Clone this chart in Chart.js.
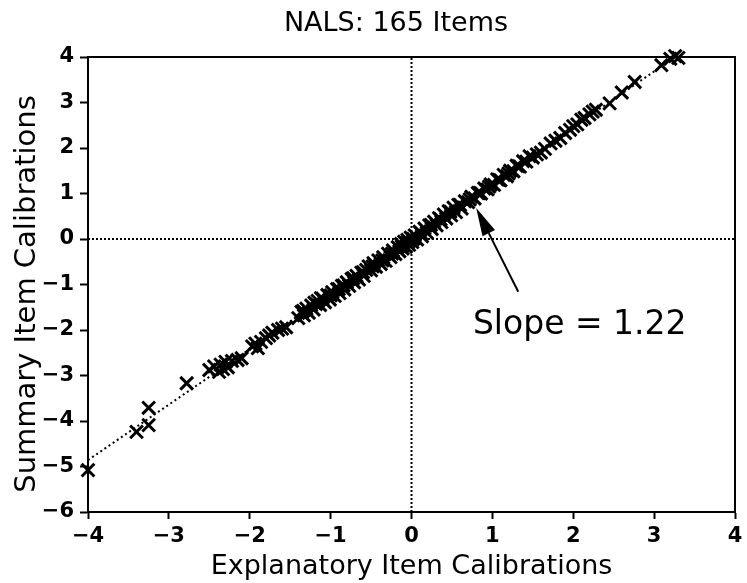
<!DOCTYPE html>
<html><head><meta charset="utf-8">
<script src="https://cdn.jsdelivr.net/npm/chart.js@4.4.1/dist/chart.umd.min.js"></script>
<style>html,body{margin:0;padding:0;background:#fff;}</style>
</head><body>
<canvas id="c" width="747" height="583"></canvas>
<script>
// ---- data ----
const titleText = 'NALS: 165 Items';
const xTitle = 'Explanatory Item Calibrations';
const yTitle = 'Summary Item Calibrations';
const xRange = [-4, 4];
const yRange = [-6, 4];
const explanatory = [
 -4.00,-3.40,-3.25,-3.25,-2.78,
 -2.50,-2.44,-2.38,-2.36,-2.33,-2.30,-2.27,-2.22,-2.15,-2.10,
 -1.97,-1.93,-1.90,-1.86,-1.80,-1.76,-1.72,-1.65,-1.60,-1.55,
 -1.40,-1.36,-1.33,-1.30,-1.27,-1.24,-1.21,-1.18,-1.16,-1.13,
 -1.10,-1.07,-1.04,-1.01,-0.98,-0.95,-0.92,-0.89,-0.86,-0.83,
 -0.80,-0.77,-0.74,-0.71,-0.68,-0.65,-0.62,-0.59,-0.56,-0.53,
 -0.50,-0.47,-0.44,-0.41,-0.38,-0.35,-0.32,-0.29,-0.26,-0.23,
 -0.20,-0.17,-0.15,-0.13,-0.11,-0.09,-0.07,-0.05,-0.03,-0.01,
 0.01,0.04,0.07,0.10,0.13,0.16,0.19,0.22,0.25,0.28,
 0.31,0.34,0.37,0.40,0.43,0.46,0.49,0.52,0.55,0.58,
 0.62,0.66,0.70,0.74,0.78,0.82,0.86,0.90,0.94,0.98,
 1.02,1.06,1.10,1.14,1.18,1.22,1.26,1.30,1.34,1.38,
 1.42,1.46,1.50,
 1.55,1.60,1.65,1.72,1.78,1.84,1.90,1.96,2.00,2.05,2.10,2.14,2.20,2.24,2.28,2.45,2.60,2.76,3.09,3.20,3.26,3.30,
 -1.34,-1.20,-1.12,-1.00,-0.90,-0.84,-0.72,-0.60,-0.48,-0.36,-0.24,-0.12,-0.04,0.02,0.12,0.24,0.36,0.48,0.60,0.72,0.84,0.96,1.08,1.20,1.32
];
const summary = [
 -5.08,-4.24,-4.09,-3.71,-3.17,
 -2.88,-2.80,-2.92,-2.76,-2.86,-2.70,-2.82,-2.68,-2.66,-2.62,
 -2.36,-2.30,-2.40,-2.26,-2.18,-2.12,-2.06,-2.00,-1.97,-1.94,
 -1.74,-1.60,-1.68,-1.53,-1.62,-1.46,-1.55,-1.43,-1.36,-1.45,
 -1.31,-1.39,-1.23,-1.33,-1.17,-1.25,-1.10,-1.19,-1.03,-1.11,
 -0.95,-1.03,-0.88,-0.95,-0.81,-0.89,-0.74,-0.81,-0.68,-0.60,
 -0.69,-0.53,-0.61,-0.47,-0.55,-0.40,-0.48,-0.32,-0.40,-0.25,
 -0.33,-0.18,-0.27,-0.11,-0.21,-0.06,-0.17,-0.02,-0.13,0.03,
 -0.07,0.08,-0.01,0.16,0.06,0.23,0.14,0.30,0.22,0.38,
 0.30,0.46,0.37,0.54,0.45,0.61,0.52,0.69,0.59,0.75,
 0.67,0.83,0.81,0.93,0.89,1.01,1.00,1.11,1.09,1.20,
 1.19,1.31,1.29,1.41,1.38,1.50,1.49,1.61,1.59,1.71,
 1.70,1.82,1.79,
 1.86,1.90,1.98,2.10,2.16,2.22,2.33,2.40,2.48,2.52,2.62,2.66,2.74,2.80,2.84,2.98,3.22,3.45,3.82,3.96,4.02,3.98,
 -1.58,-1.40,-1.30,-1.24,-1.10,-1.02,-0.86,-0.73,-0.60,-0.47,-0.32,-0.16,-0.06,0.00,0.12,0.31,0.43,0.60,0.75,0.87,1.01,1.15,1.30,1.44,1.60
];
const fitLineX = [-4.00, 3.26];
const fitLineY = [-4.86, 4.00];
const slopeLabel = 'Slope = 1.22';
const slopeLabelAt = [2.08, -1.90];
const arrowTail = [1.32, -1.16];
const arrowTip = [0.80, 0.68];

// ---- build ----
const FONT = 'DejaVu Sans';
const pts = explanatory.map((x, i) => ({x, y: summary[i]}));
const fitPts = fitLineX.map((x, i) => ({x, y: fitLineY[i]}));
const zeroV = [{x: 0, y: yRange[0]}, {x: 0, y: yRange[1]}];
const zeroH = [{x: xRange[0], y: 0}, {x: xRange[1], y: 0}];
const fmt = v => (v < 0 ? '\u2212' + Math.abs(v) : String(v));

const extras = {
  id: 'extras',
  afterDatasetsDraw(chart) {
    const {ctx, chartArea: a, scales: {x, y}} = chart;
    ctx.save();
    ctx.strokeStyle = '#000';
    ctx.fillStyle = '#000';
    ctx.lineWidth = 2;
    ctx.strokeRect(a.left, a.top, a.right - a.left, a.bottom - a.top);
    // arrow
    const tx = x.getPixelForValue(arrowTail[0]), ty = y.getPixelForValue(arrowTail[1]);
    const hx = x.getPixelForValue(arrowTip[0]), hy = y.getPixelForValue(arrowTip[1]);
    const ang = Math.atan2(hy - ty, hx - tx);
    const L = 28, W = 7;
    const bx = hx - L * Math.cos(ang), by = hy - L * Math.sin(ang);
    ctx.beginPath(); ctx.moveTo(tx, ty); ctx.lineTo(bx, by); ctx.stroke();
    ctx.beginPath();
    ctx.moveTo(hx, hy);
    ctx.lineTo(bx + W * Math.sin(ang), by - W * Math.cos(ang));
    ctx.lineTo(bx - W * Math.sin(ang), by + W * Math.cos(ang));
    ctx.closePath(); ctx.fill();
    // slope label
    ctx.font = '33px "' + FONT + '"';
    ctx.textAlign = 'center'; ctx.textBaseline = 'middle';
    ctx.fillText(slopeLabel, x.getPixelForValue(slopeLabelAt[0]), y.getPixelForValue(slopeLabelAt[1]));
    // main title
    ctx.font = '27px "' + FONT + '"';
    ctx.fillText(titleText, 396, 24);
    // y axis title
    ctx.save();
    ctx.translate(27, 294);
    ctx.rotate(-Math.PI / 2);
    ctx.font = '29px "' + FONT + '"';
    ctx.fillText(yTitle, 0, 0);
    ctx.restore();
    ctx.restore();
  }
};

new Chart(document.getElementById('c'), {
  type: 'scatter',
  data: {
    datasets: [
      {data: pts, pointStyle: 'crossRot', pointRadius: 9, pointBorderWidth: 3, borderColor: '#000', backgroundColor: '#000', showLine: false, clip: false},
      {data: fitPts, showLine: true, borderColor: '#000', borderWidth: 2, borderDash: [2, 3], pointRadius: 0},
      {data: zeroV, showLine: true, borderColor: '#000', borderWidth: 2, borderDash: [2, 2], pointRadius: 0},
      {data: zeroH, showLine: true, borderColor: '#000', borderWidth: 2, borderDash: [2, 2], pointRadius: 0}
    ]
  },
  options: {
    responsive: false,
    animation: false,
    devicePixelRatio: 1,
    layout: {padding: {left: 0, right: 2, top: 57, bottom: 0}},
    plugins: {
      legend: {display: false},
      tooltip: {enabled: false},
      title: {display: false}
    },
    scales: {
      x: {
        type: 'linear', min: xRange[0], max: xRange[1],
        ticks: {stepSize: 1, color: '#000', font: {family: FONT, size: 21, weight: 'bold'}, padding: 5, maxRotation: 0, callback: v => fmt(v)},
        grid: {display: true, drawOnChartArea: false, drawTicks: true, tickLength: 7, tickWidth: 2, tickColor: '#000'},
        border: {display: true, color: '#000', width: 2},
        title: {display: true, text: xTitle, color: '#000', font: {family: FONT, size: 27}, padding: {top: 0, bottom: 0}},
        afterFit: s => { s.height = 71; s.paddingRight = 0; s.paddingLeft = 0; }
      },
      y: {
        type: 'linear', min: yRange[0], max: yRange[1],
        ticks: {stepSize: 1, color: '#000', font: {family: FONT, size: 21, weight: 'bold'}, padding: 6, callback: v => fmt(v)},
        grid: {display: true, drawOnChartArea: false, drawTicks: true, tickLength: 8, tickWidth: 2, tickColor: '#000'},
        border: {display: true, color: '#000', width: 2},
        title: {display: false},
        afterFit: s => { s.width = 88; }
      }
    }
  },
  plugins: [extras]
});
</script>
</body></html>
